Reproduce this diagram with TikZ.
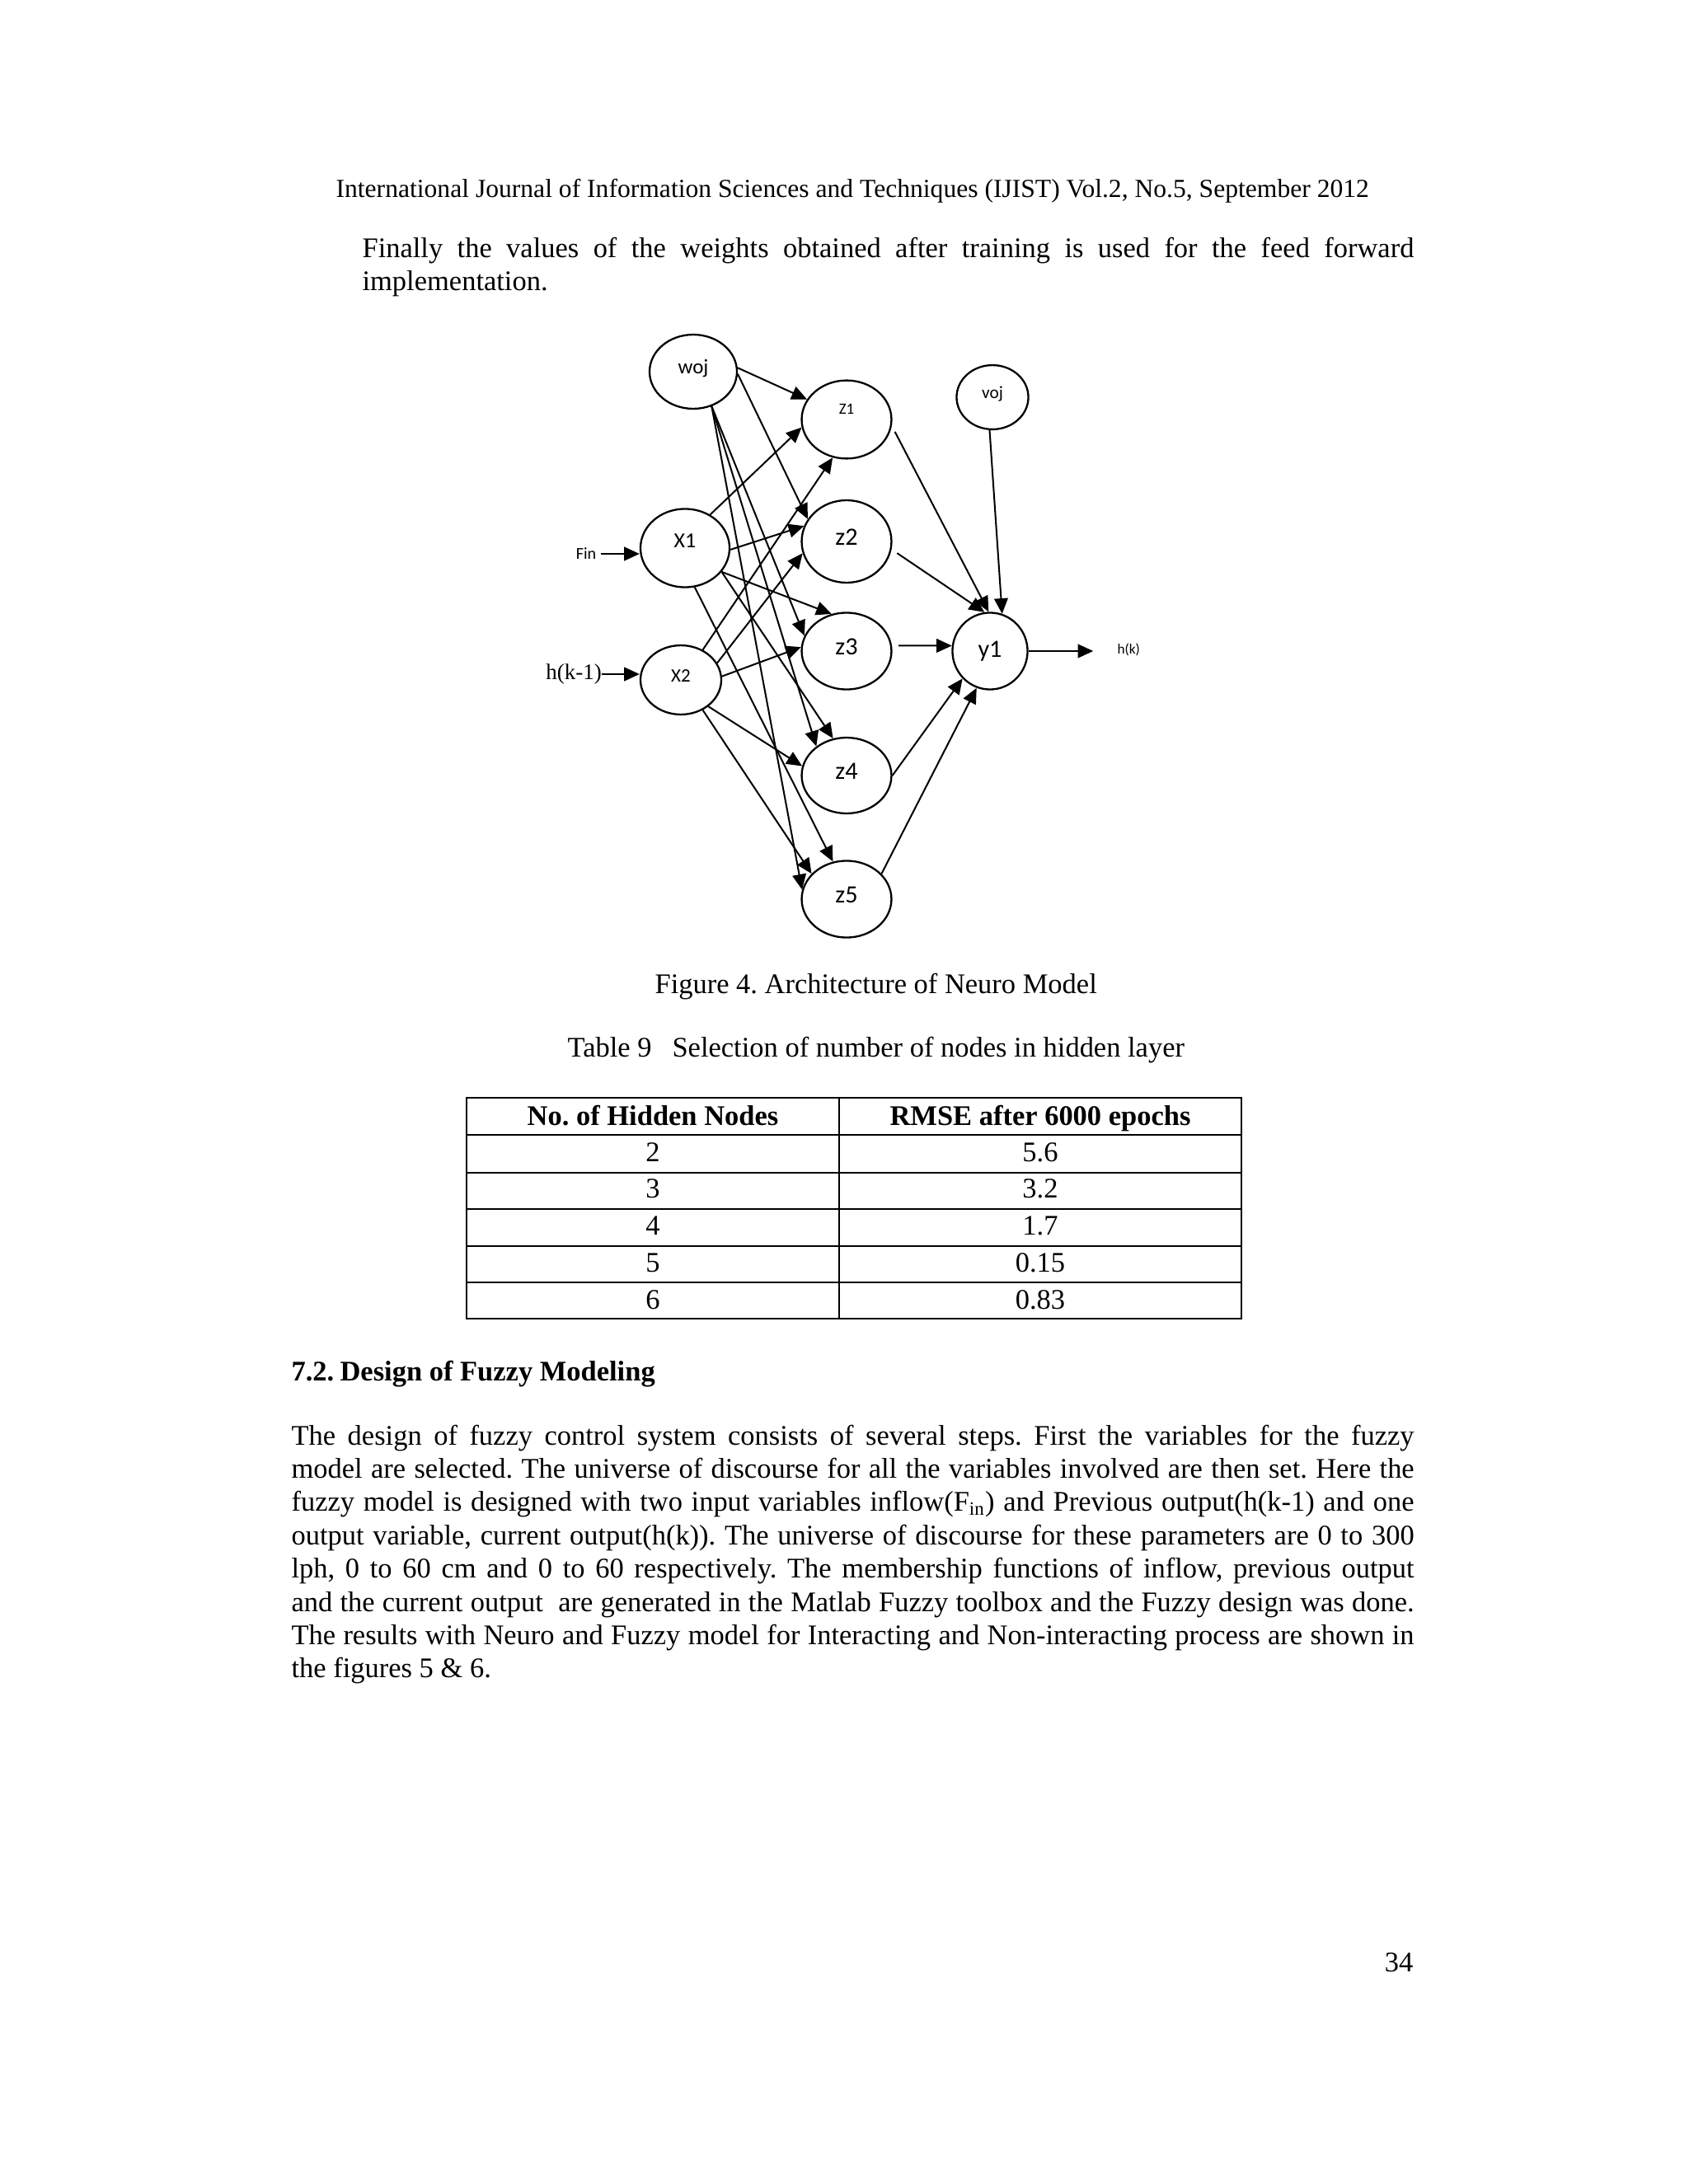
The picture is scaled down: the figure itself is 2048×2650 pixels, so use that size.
\documentclass[tikz,border=0pt]{standalone}
\usepackage{fontspec}
\setmainfont{Liberation Serif}
\newfontfamily\calib{Carlito}
\usetikzlibrary{positioning,arrows.meta,shapes.geometric}
\frenchspacing

\begin{document}
\begin{tikzpicture}[
  x=0.348pt,y=-0.348pt,
  >={Triangle[length=6.5pt,width=5.8pt]},
  neuron/.style={draw,ellipse,line width=0.8pt,inner sep=0pt},
  hid/.style={neuron,minimum width=37.9pt,minimum height=33pt,text depth=3.5pt,font=\calib\fontsize{10.5}{11}\selectfont},
  wire/.style={->,line width=0.7pt},
  txt/.style={anchor=base west,inner sep=0pt,font=\fontsize{12}{14}\selectfont},
  cell/.style={anchor=base,inner sep=0pt,font=\fontsize{12}{14}\selectfont},
  rule/.style={line width=0.8pt}
]
\fill[white] (0,0) rectangle (2048,2650);
\useasboundingbox (0,0) rectangle (2048,2650);

% page header and first paragraph
\node[txt,font=\fontsize{11}{13}\selectfont] (header) at (407,240) {International Journal of Information Sciences and Techniques (IJIST) Vol.2, No.5, September 2012};
\node[txt] (para1a) at (439,313) {\makebox[444pt][s]{Finally the values of the weights obtained after training is used for the feed forward}};
\node[txt] (para1b) at (439,353) {implementation.};

% input, bias and hidden neurons
\node[neuron,minimum width=36.9pt,minimum height=31.3pt,text depth=4.2pt,font=\calib\fontsize{8.7}{9}\selectfont] (woj) at (841,451) {woj};
\node[neuron,minimum width=37.6pt,minimum height=33.1pt,text depth=6pt,font=\calib\fontsize{9}{10}\selectfont] (X1) at (831,665) {X1\hspace{4.8pt}};
\node[neuron,minimum width=34.1pt,minimum height=29.2pt,text depth=3.5pt,font=\calib\fontsize{8}{9}\selectfont] (X2) at (826,825) {X2\hspace{2.4pt}};
\node[hid,text depth=9pt,font=\calib\fontsize{6.6}{7}\selectfont] (z1) at (1027,509) {Z1};
\node[hid,minimum height=34.8pt] (z2) at (1027,657) {z2};
\node[hid,minimum height=32.4pt] (z3) at (1027,790) {z3};
\node[hid,minimum height=32pt] (z4) at (1027,941) {z4};
\node[hid,minimum height=32.4pt] (z5) at (1027,1091) {z5};
% output side
\node[neuron,minimum width=30.3pt,minimum height=27.1pt,text depth=3.9pt,font=\calib\fontsize{7.4}{8}\selectfont] (voj) at (1204,482) {voj};
\node[neuron,minimum width=31.7pt,minimum height=32.4pt,font=\calib\fontsize{10.5}{11}\selectfont] (y1) at (1201,790) {y1};
\node[inner sep=0pt,font=\calib\fontsize{7}{8}\selectfont] (fin) at (711,672) {Fin};
\node[inner sep=0pt,font=\fontsize{9.4}{10}\selectfont] (hk1) at (696,818) {h(k-1)};
\node[anchor=west,inner sep=0pt,font=\calib\fontsize{6}{7}\selectfont] (hk) at (1355,788) {h(k)};

% inputs
\draw[wire] (fin.east) ++(5,0) -- (fin.east -| X1.west);
\draw[wire] (hk1.east) -- (hk1.east -| X2.west);

% bias and inputs to hidden layer
\draw[wire] (woj.5) -- (z1.153);
\draw[wire] (woj.-3) -- (z2.150);
\draw[wire] (woj.-62) -- (z3.160);
\draw[wire] (woj.-62) -- (z4.136);
\draw[wire] (woj.-62) -- (z5.168);
\draw[wire] (X1.53) -- (z1.190);
\draw[wire] (X1.-2) -- (z2.160);
\draw[wire] (X1.-33) -- (z3.112);
\draw[wire] (X1.-33) -- (z4.110);
\draw[wire] (X1.-76) -- (z5.110);
\draw[wire] (X2.54) -- (z1.250);
\draw[wire] (X2.25) -- (z2.195);
\draw[wire] (X2.5) -- (z3.175);
\draw[wire] (X2.-44) -- (z4.168);
\draw[wire] (X2.-54) -- (z5.144);

% hidden layer to output
\draw[wire,shorten <=2.8pt] (z1.-8) -- (y1.92);
\draw[wire,shorten <=2.8pt] (z2.-10) -- (y1.98);
\draw[wire] (voj.-95) -- (y1.72);
\draw[wire,shorten <=2.8pt] (z3.7) -- (y1.172);
\draw[wire] (z4.east) -- (y1.225);
\draw[wire] (z5.36) -- (y1.250);
\draw[wire,shorten >=10pt] (y1.east) -- (y1.east -| hk.west);

% captions
\node[txt] (figcap) at (794,1205) {Figure 4. Architecture of Neuro Model};
\node[txt] (tabcap) at (688,1282) {Table 9\hspace{8.7pt}Selection of number of nodes in hidden layer};

% table
\draw[rule] (566,1332) rectangle (1506,1600);
\draw[rule] (1018,1332) -- (1018,1600);
\foreach \yy in {1377,1423,1467,1512,1556}
  \draw[rule] (566,\yy) -- (1506,\yy);
\node[cell,font=\bfseries\fontsize{12}{14}\selectfont] (thn) at (792,1365) {No. of Hidden Nodes};
\node[cell,font=\bfseries\fontsize{12}{14}\selectfont] (thr) at (1262,1365) {RMSE after 6000 epochs};
\foreach \n/\r [count=\i] in {2/5.6,3/3.2,4/1.7,5/0.15,6/0.83}{
  \node[cell] (n\i) at (792,{1409+44.75*(\i-1)}) {\n};
  \node[cell] (r\i) at (1262,{1409+44.75*(\i-1)}) {\r};
}

% section 7.2
\node[txt,font=\bfseries\fontsize{12}{14}\selectfont] (secnum) at (353,1675) {7.2.};
\node[txt,font=\bfseries\fontsize{12}{14}\selectfont] (sectitle) at (412,1675) {Design of Fuzzy Modeling};

\node[txt] (body1) at (353,1753) {\makebox[474pt][s]{The design of fuzzy control system consists of several steps. First the variables for the fuzzy}};
\node[txt] (body2) at (353,1793.4) {\makebox[474pt][s]{model are selected. The universe of discourse for all the variables involved are then set. Here the}};
\node[txt] (body3) at (353,1833.8) {\makebox[474pt][s]{fuzzy model is designed with two input variables inflow(F\textsubscript{in}) and Previous output(h(k-1) and one}};
\node[txt] (body4) at (353,1874.2) {\makebox[474pt][s]{output variable, current output(h(k)). The universe of discourse for these parameters are 0 to 300}};
\node[txt] (body5) at (353,1914.6) {\makebox[474pt][s]{lph, 0 to 60 cm and 0 to 60 respectively. The membership functions of inflow, previous output}};
\node[txt] (body6) at (353,1955) {\makebox[474pt][s]{and the current output\ \ are generated in the Matlab Fuzzy toolbox and the Fuzzy design was done.}};
\node[txt] (body7) at (353,1995.4) {\makebox[474pt][s]{The results with Neuro and Fuzzy model for Interacting and Non-interacting process are shown in}};
\node[txt] (body8) at (353,2035.8) {the figures 5 \& 6.};

% page number
\node[anchor=base east,inner sep=0pt,font=\fontsize{12}{14}\selectfont] (pagenum) at (1715,2392) {34};
\end{tikzpicture}
\end{document}
